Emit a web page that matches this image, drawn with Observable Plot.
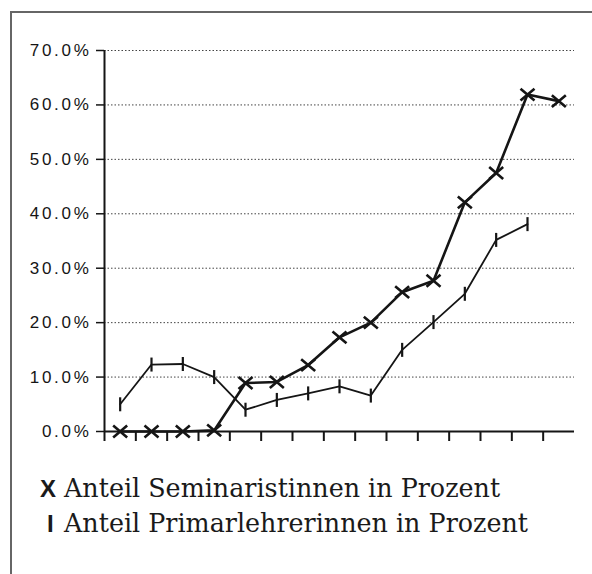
<!DOCTYPE html>
<html><head><meta charset="utf-8">
<script src="https://cdn.jsdelivr.net/npm/d3@7"></script>
<script src="https://cdn.jsdelivr.net/npm/@observablehq/plot@0.6"></script>
<style>
html,body{margin:0;padding:0;background:#fff;}
#wrap{position:relative;width:592px;height:574px;overflow:hidden;background:#fff;}
#frame{position:absolute;left:10px;top:11px;width:600px;height:600px;border-top:2px solid #666;border-left:2px solid #666;}
#chart{position:absolute;left:0;top:0;}
#chart svg text{letter-spacing:2.7px;font-size:17px !important;font-family:"Liberation Sans" !important;}
.leg{position:absolute;left:40px;font-family:"DejaVu Serif";font-size:25.4px;line-height:30px;color:#1a1a1a;white-space:nowrap;}
.leg .m{display:inline-block;width:24px;font-family:"Liberation Sans";font-weight:bold;font-size:24px;}
</style></head><body>
<div id="wrap"><div id="frame"></div><div id="chart"></div>
<div class="leg" id="l1" style="top:473px"></div>
<div class="leg" id="l2" style="top:508px"></div>
</div>
<script>
// 15 periods (unlabelled on the x axis)
const periods = [1, 2, 3, 4, 5, 6, 7, 8, 9, 10, 11, 12, 13, 14, 15];
const seminaristinnen = [0, 0, 0, 0.2, 8.9, 9.1, 12.2, 17.3, 20.0, 25.6, 27.7, 42.1, 47.5, 61.9, 60.7];
const primarlehrerinnen = [5.0, 12.3, 12.4, 10.0, 4.0, 5.8, 7.0, 8.3, 6.6, 15.0, 20.1, 25.3, 35.2, 38.1];
const yTicks = [0, 10, 20, 30, 40, 50, 60, 70];
const seriesLabels = ["Anteil Seminaristinnen in Prozent", "Anteil Primarlehrerinnen in Prozent"];
const seriesMarkers = ["X", "I"];

const semiData = periods.map((p, i) => ({p, v: seminaristinnen[i]}));
const primData = primarlehrerinnen.map((v, i) => ({p: periods[i], v}));
const boundaries = periods.map(p => p - 0.5);

const xSym = {draw(ctx, size) {
  const r = Math.sqrt(size / Math.PI), h = r * 0.85;
  ctx.moveTo(-r, -h); ctx.lineTo(r, h); ctx.moveTo(-r, h); ctx.lineTo(r, -h);
}};
const vSym = {draw(ctx, size) {
  const r = Math.sqrt(size / Math.PI);
  ctx.moveTo(0, -r); ctx.lineTo(0, r);
}};

const ink = "#151515";
const chart = Plot.plot({
  width: 592, height: 460,
  marginLeft: 104, marginRight: 18, marginTop: 50, marginBottom: 29,
  style: {fontFamily: "Liberation Sans", fontSize: "17px", color: ink, background: "transparent"},
  x: {domain: [periods[0] - 0.5, periods[periods.length - 1] + 0.5]},
  y: {domain: [0, 70]},
  marks: [
    Plot.ruleY(yTicks.filter(d => d > 0), {stroke: "#444", strokeWidth: 1, strokeDasharray: "1.5,2"}),
    Plot.axisY({ticks: yTicks, tickSize: 8, tickPadding: 5, tickFormat: d => d.toFixed(1) + "%", strokeWidth: 1.5, label: null, fontSize: 17}),
    Plot.axisX({ticks: boundaries, tickSize: 10, tickFormat: () => "", strokeWidth: 2, label: null}),
    Plot.ruleX([boundaries[0]], {stroke: ink, strokeWidth: 2}),
    Plot.ruleY([0], {stroke: ink, strokeWidth: 2}),
    Plot.line(primData, {x: "p", y: "v", stroke: ink, strokeWidth: 1.8}),
    Plot.dot(primData, {x: "p", y: "v", symbol: vSym, r: 7, fill: "none", stroke: ink, strokeWidth: 2.2}),
    Plot.line(semiData, {x: "p", y: "v", stroke: ink, strokeWidth: 2.6}),
    Plot.dot(semiData, {x: "p", y: "v", symbol: xSym, r: 7, fill: "none", stroke: ink, strokeWidth: 2.6})
  ]
});
document.getElementById("chart").appendChild(chart);
document.getElementById("l1").innerHTML = '<span class="m">' + seriesMarkers[0] + '</span>' + seriesLabels[0];
document.getElementById("l2").innerHTML = '<span class="m" style="padding-left:7px;width:17px">' + seriesMarkers[1] + '</span>' + seriesLabels[1];
</script>
</body></html>
